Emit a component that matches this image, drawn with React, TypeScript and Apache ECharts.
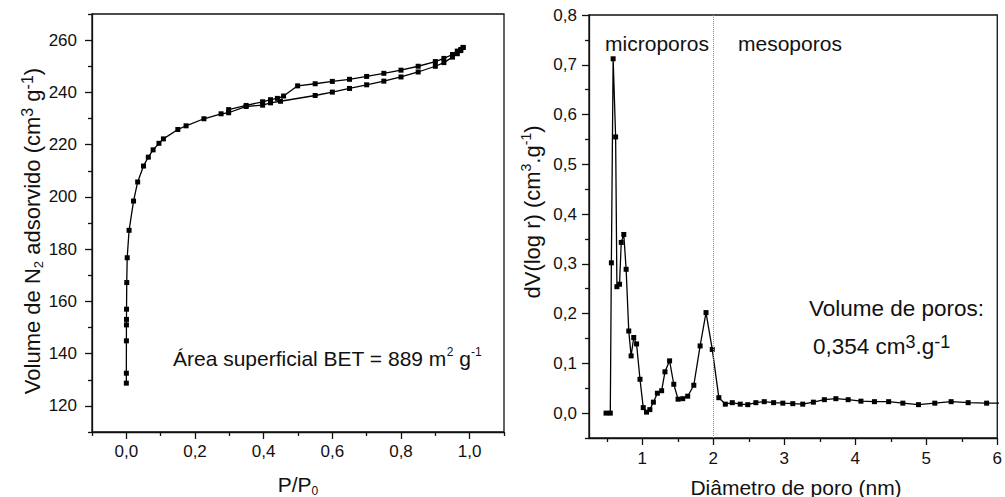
import React, { useEffect, useRef } from 'react';
import * as echarts from 'echarts';

// Left: N2 isotherm
const adsorptionP = [0.0, 0.0001, 0.0002, 0.0003, 0.0004, 0.0006, 0.0012, 0.0025, 0.008, 0.021, 0.033, 0.05, 0.064, 0.078, 0.095, 0.108, 0.15, 0.174, 0.226, 0.276, 0.298, 0.349, 0.397, 0.42, 0.449, 0.55, 0.6, 0.65, 0.7, 0.75, 0.8, 0.85, 0.9, 0.925, 0.95, 0.964, 0.974, 0.981];
const adsorptionV = [128.7, 132.5, 144.9, 151.0, 153.1, 157.0, 167.2, 176.7, 187.2, 198.4, 205.7, 211.8, 215.2, 218.0, 220.5, 222.2, 225.8, 227.2, 229.9, 231.8, 232.2, 234.6, 235.1, 236.0, 236.6, 238.8, 240.1, 241.5, 242.9, 244.3, 245.9, 247.8, 250.0, 251.4, 253.5, 254.8, 256.0, 257.2];
const desorptionP = [0.981, 0.974, 0.964, 0.95, 0.925, 0.9, 0.85, 0.8, 0.75, 0.7, 0.65, 0.6, 0.55, 0.499, 0.458, 0.44, 0.42, 0.397, 0.349, 0.298];
const desorptionV = [257.2, 256.4, 255.8, 254.5, 253.0, 251.8, 250.0, 248.5, 247.3, 246.1, 245.0, 244.2, 243.3, 242.5, 238.6, 237.7, 237.2, 236.4, 235.0, 233.4];

// Right: pore size distribution
const poreDiameter = [0.49, 0.55, 0.565, 0.59, 0.625, 0.643, 0.68, 0.704, 0.74, 0.773, 0.81, 0.843, 0.88, 0.92, 0.968, 1.014, 1.06, 1.107, 1.157, 1.213, 1.273, 1.32, 1.385, 1.444, 1.504, 1.57, 1.64, 1.726, 1.815, 1.898, 1.986, 2.079, 2.17, 2.268, 2.38, 2.486, 2.6, 2.718, 2.85, 2.98, 3.12, 3.26, 3.41, 3.565, 3.727, 3.9, 4.08, 4.27, 4.47, 4.67, 4.89, 5.12, 5.35, 5.59, 5.85, 6.12];
const poreDV = [0.0, 0.0, 0.302, 0.712, 0.555, 0.254, 0.259, 0.343, 0.359, 0.289, 0.165, 0.115, 0.152, 0.139, 0.068, 0.011, 0.002, 0.007, 0.022, 0.04, 0.045, 0.083, 0.105, 0.058, 0.028, 0.029, 0.034, 0.056, 0.135, 0.202, 0.128, 0.031, 0.018, 0.021, 0.018, 0.017, 0.021, 0.023, 0.021, 0.02, 0.019, 0.018, 0.022, 0.027, 0.029, 0.027, 0.024, 0.023, 0.023, 0.02, 0.017, 0.02, 0.023, 0.021, 0.02, 0.02];

const isoXTicks = [0, 0.2, 0.4, 0.6, 0.8, 1.0];
const isoXMinor = [-0.1, 0.1, 0.3, 0.5, 0.7, 0.9, 1.1];
const isoYTicks = [120, 140, 160, 180, 200, 220, 240, 260];
const isoYMinor = [110, 130, 150, 170, 190, 210, 230, 250, 270];
const psdXTicks = [1, 2, 3, 4, 5, 6];
const psdXMinor = [0.5, 1.5, 2.5, 3.5, 4.5, 5.5];
const psdYTicks = [0, 0.1, 0.2, 0.3, 0.4, 0.5, 0.6, 0.7, 0.8];
const psdYMinor = [-0.05, 0.05, 0.15, 0.25, 0.35, 0.45, 0.55, 0.65, 0.75];
const microporeLimit = 2;

const FONT = 'Liberation Sans, Arial, sans-serif';
const INK = '#111';
const TICK_FS = 17;

const zip = (a: number[], b: number[]) => a.map((v, i) => [v, b[i]]);
const comma1 = (v: number) => v.toFixed(1).replace('.', ',');

function majorAxis(min: number, max: number, ticks: number[], fmt: (v: number) => string, gridIndex: number, position: string, margin: number) {
  return {
    type: 'value', gridIndex, position, min, max,
    axisLine: { show: true, onZero: false, lineStyle: { color: INK, width: 1.3 } },
    axisTick: { show: true, inside: false, length: 7, customValues: ticks, lineStyle: { color: INK, width: 1.3 } },
    axisLabel: { show: true, customValues: ticks, formatter: fmt, fontSize: TICK_FS, fontFamily: FONT, color: INK, margin },
    splitLine: { show: false },
  };
}
function minorAxis(min: number, max: number, ticks: number[], gridIndex: number, position: string) {
  return {
    type: 'value', gridIndex, position, min, max,
    axisLine: { show: false, onZero: false },
    axisTick: { show: true, inside: false, length: 4, customValues: ticks, lineStyle: { color: INK, width: 1.3 } },
    axisLabel: { show: false },
    splitLine: { show: false },
  };
}

const lineSeries = (data: number[][], xAxisIndex: number, yAxisIndex: number, extra: any = {}) => ({
  type: 'line', data, xAxisIndex, yAxisIndex,
  symbol: 'rect', symbolSize: 5,
  itemStyle: { color: '#000' },
  lineStyle: { color: '#000', width: 1.3 },
  ...extra,
});

const txt = (text: string, x: number, y: number, fontSize: number, align: string, rich: any = {}, rotation = 0) => ({
  type: 'text', x, y, rotation,
  style: { text, fontSize, fontFamily: FONT, fill: INK, align, verticalAlign: 'middle', lineHeight: fontSize + 4, rich },
});

export default function App() {
  const ref = useRef<HTMLDivElement>(null);
  useEffect(() => {
    if (!ref.current) return;
    const chart = echarts.init(ref.current, null, { renderer: 'svg' });
    const supS = { fontSize: 12, verticalAlign: 'top', lineHeight: 12, fontFamily: FONT, fill: INK, color: INK };
    const subS = { fontSize: 12, verticalAlign: 'bottom', lineHeight: 12, fontFamily: FONT, fill: INK, color: INK };
    const supTitle = { ...supS, fontSize: 16, lineHeight: 16 };
    const supBig = { ...supS, fontSize: 18, lineHeight: 18 };
    const option: any = {
      animation: false,
      grid: [
        { left: 92, top: 14, width: 412, height: 418, show: true, borderColor: INK, borderWidth: 1.3, containLabel: false },
        { left: 589, top: 15, width: 414, height: 423, show: true, borderColor: INK, borderWidth: 1.3, containLabel: false },
      ],
      xAxis: [
        majorAxis(-0.1, 1.1, isoXTicks, comma1, 0, 'bottom', 11),
        minorAxis(-0.1, 1.1, isoXMinor, 0, 'bottom'),
        majorAxis(0.25, 6, psdXTicks, (v: number) => String(Math.round(v)), 1, 'bottom', 12),
        minorAxis(0.25, 6, psdXMinor, 1, 'bottom'),
      ],
      yAxis: [
        majorAxis(110, 270, isoYTicks, (v: number) => String(Math.round(v)), 0, 'left', 15),
        minorAxis(110, 270, isoYMinor, 0, 'left'),
        majorAxis(-0.05, 0.8, psdYTicks, comma1, 1, 'left', 12),
        minorAxis(-0.05, 0.8, psdYMinor, 1, 'left'),
      ],
      series: [
        lineSeries(zip(adsorptionP, adsorptionV), 0, 0),
        lineSeries(zip(desorptionP, desorptionV), 0, 0),
        lineSeries(zip(poreDiameter, poreDV), 2, 2, {
          markLine: {
            silent: true, symbol: 'none', label: { show: false },
            lineStyle: { color: '#8a8a8a', type: 'dotted', width: 1 },
            data: [{ xAxis: microporeLimit }],
          },
        }),
      ],
      graphic: [
        txt('Volume de N{sub|2} adsorvido (cm{sup|3} g{sup|-1})', 32, 231, 22, 'center', { sub: { ...subS, fontSize: 13, lineHeight: 13 }, sup: supTitle }, Math.PI / 2),
        txt('P/P{sub|0}', 298, 484, 21, 'center', { sub: subS }),
        txt('Área superficial BET = 889 m{sup|2} g{sup|-1}', 173, 358, 21, 'left', { sup: supS }),
        txt('dV(log r) (cm{sup|3}.g{sup|-1})', 532, 212, 22, 'center', { sup: { ...supS, fontSize: 14, lineHeight: 14 } }, Math.PI / 2),
        txt('Diâmetro de poro (nm)', 796, 487, 21, 'center'),
        txt('microporos', 657, 43, 21, 'center'),
        txt('mesoporos', 738, 43, 21, 'left'),
        txt('Volume de poros:', 809, 308, 22.5, 'left'),
        txt('0,354 cm{sup|3}.g{sup|-1}', 813, 346, 22.5, 'left', { sup: supBig }),
      ],
    };
    chart.setOption(option);
    return () => chart.dispose();
  }, []);
  return <div ref={ref} style={{ position: 'absolute', left: 0, top: 0, width: 1005, height: 497, background: '#fff' }} />;
}
